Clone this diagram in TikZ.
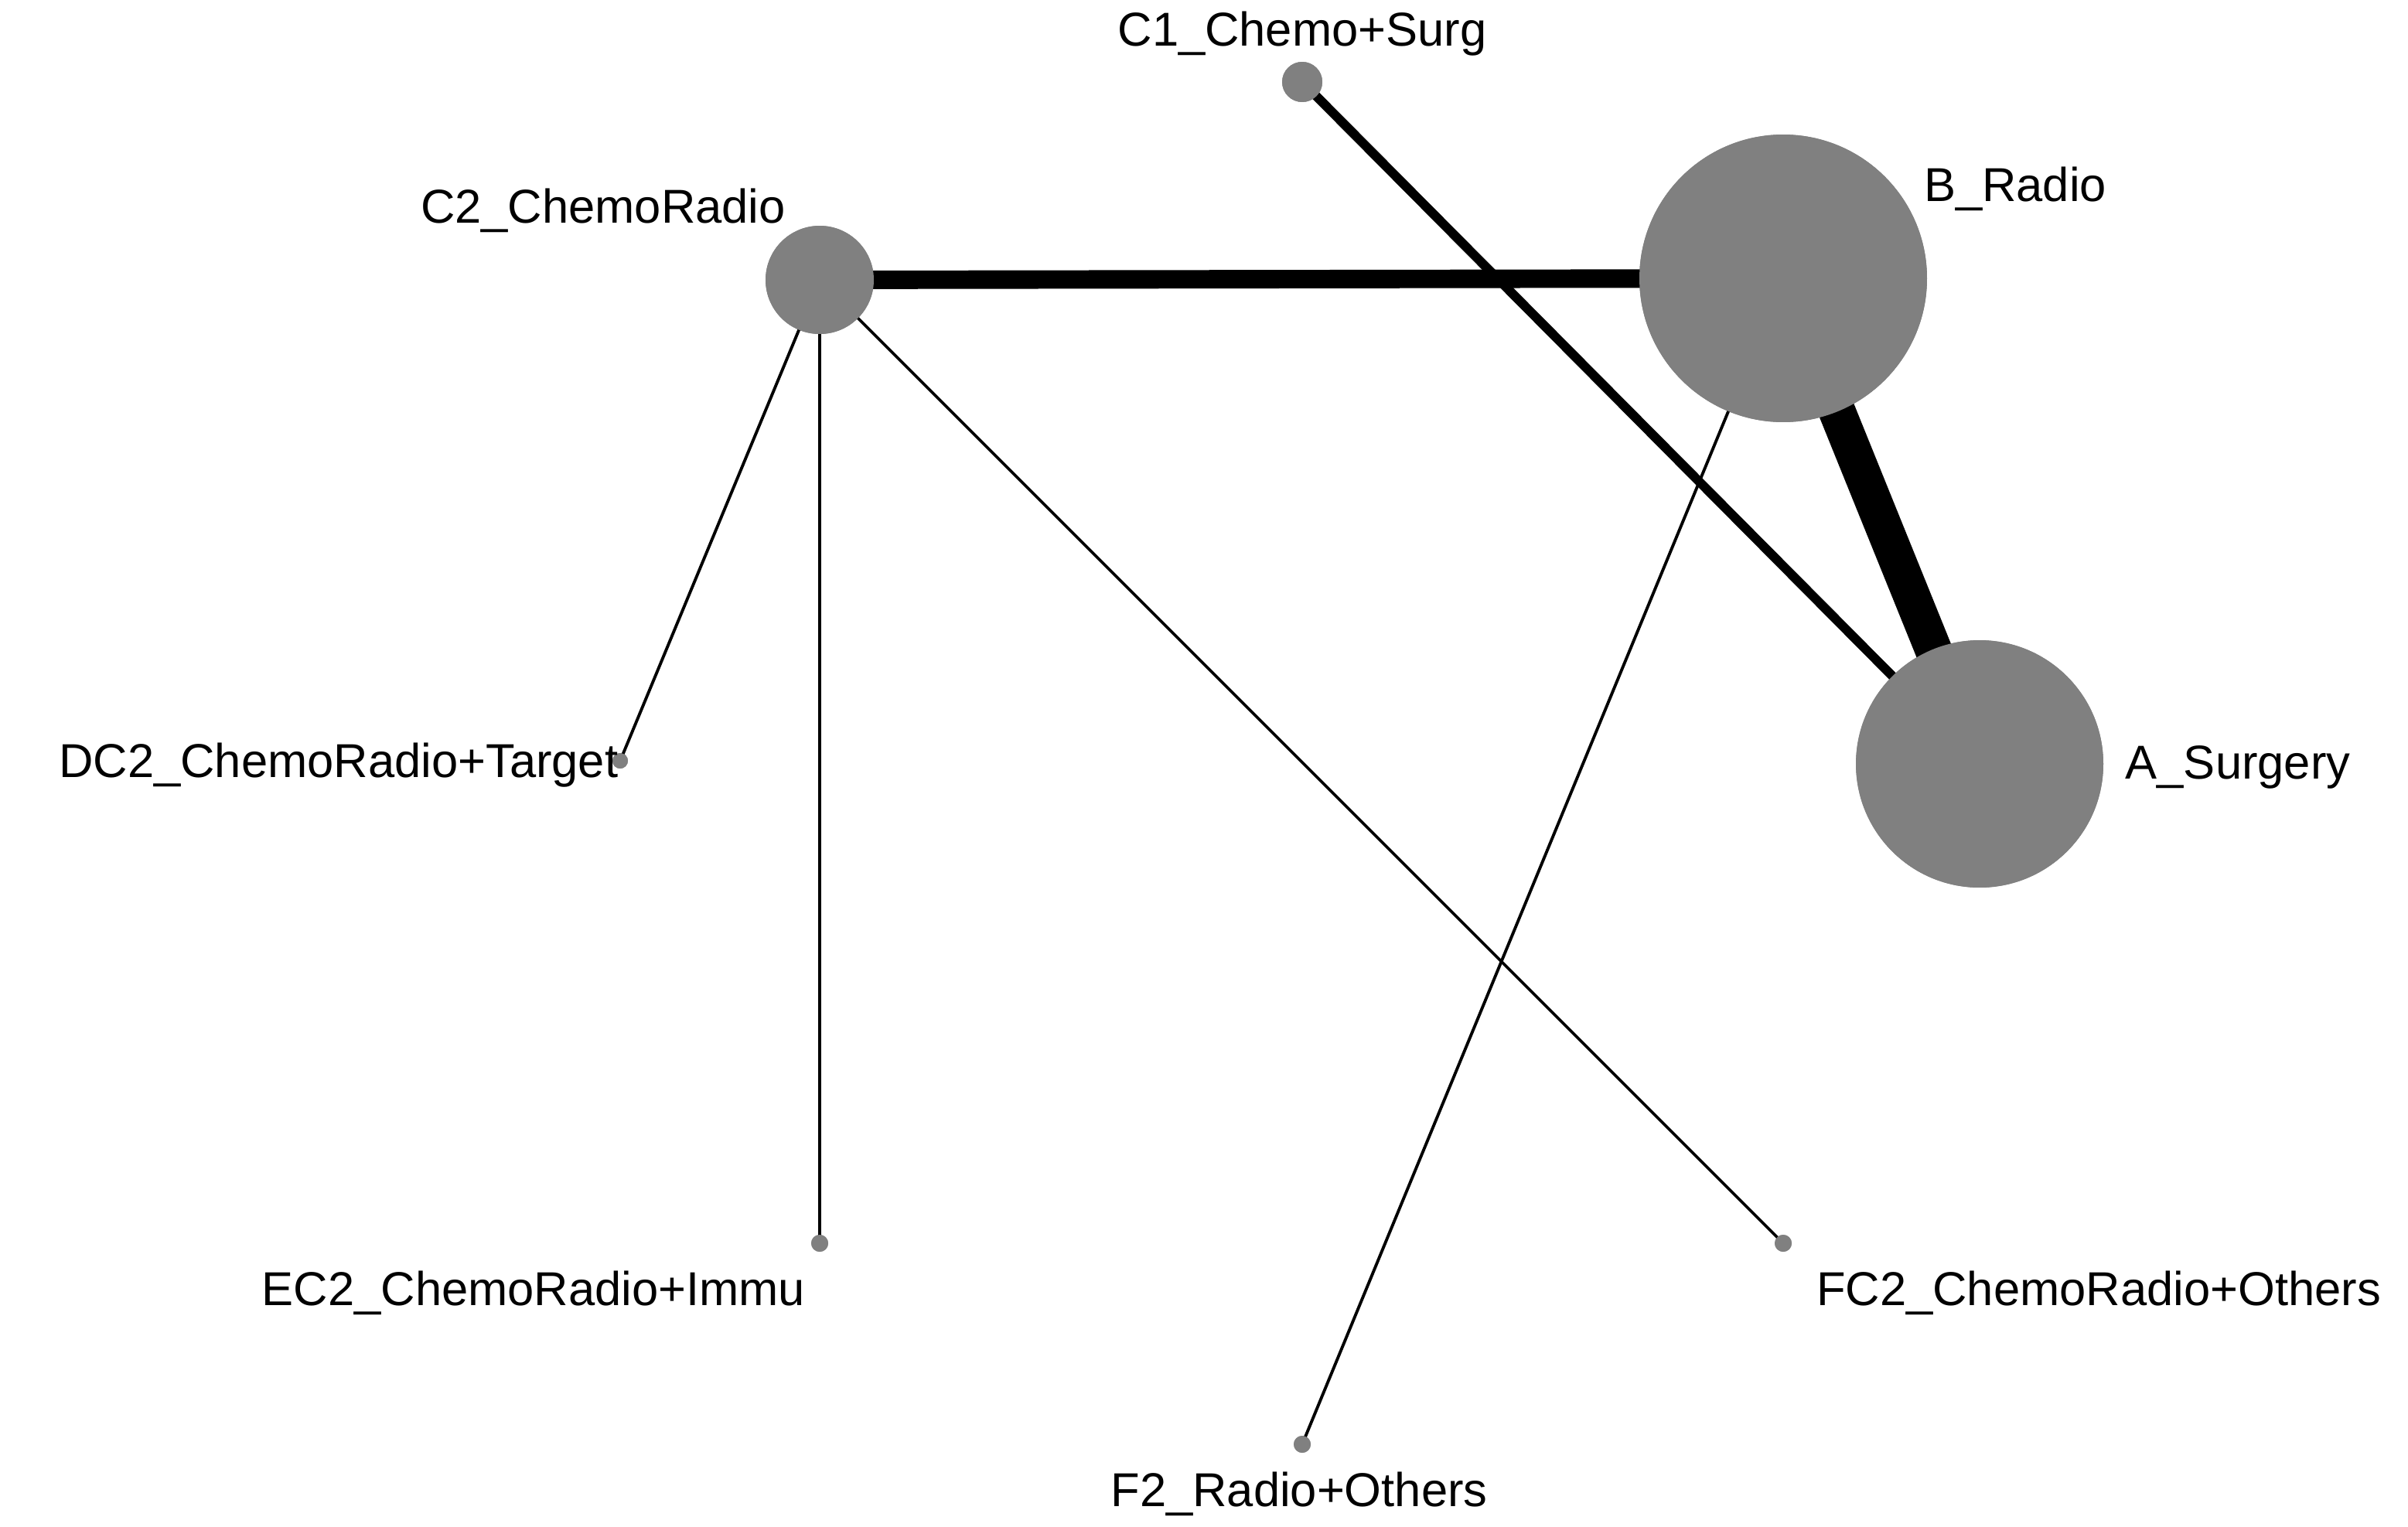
\documentclass[tikz,border=0pt]{standalone}
\usepackage{fontspec}
\setmainfont{Liberation Sans}
\usetikzlibrary{positioning}

\begin{document}
\begin{tikzpicture}[x=0.02cm,y=-0.02cm,
		trt/.style={circle,fill=gray!100!white,fill=black!50,inner sep=0pt,draw=none},
		lbl/.style={font=\fontsize{17.5}{20}\selectfont,inner sep=0pt},
		thin edge/.style={line width=1.1pt},
		mid edge/.style={line width=3.4pt},
		wide edge/.style={line width=6.8pt},
		huge edge/.style={line width=13.6pt}]
			\useasboundingbox (0,0) rectangle (1557,987);
			\node[trt,minimum size=0.52cm] (C1) at (842,53) {};
			\node[trt,minimum size=3.72cm] (B) at (1153,180) {};
			\node[trt,minimum size=1.40cm] (C2) at (530,181) {};
			\node[trt,minimum size=3.20cm] (A) at (1280,494) {};
			\node[trt,minimum size=0.20cm] (DC2) at (401,492) {};
			\node[trt,minimum size=0.22cm] (EC2) at (530,804) {};
			\node[trt,minimum size=0.22cm] (FC2) at (1153,804) {};
			\node[trt,minimum size=0.22cm] (F2) at (842,934) {};
			
			\begin{scope}[on background layer/.style={}]
			\draw[huge edge] (B.center)--(A.center);
			\draw[wide edge] (C2.center)--(B.center);
			\draw[mid edge] (C1.center)--(A.center);
			\draw[thin edge] (C2.center)--(DC2.center);
			\draw[thin edge] (C2.center)--(EC2.center);
			\draw[thin edge] (C2.center)--(FC2.center);
			\draw[thin edge] (B.center)--(F2.center);
			\end{scope}
			
			% redraw circles over the edges
			\foreach \n in {C1,B,C2,A,DC2,EC2,FC2,F2}
				\fill[black!50] (\n) circle[radius=0pt];
			\node[trt,minimum size=0.52cm] at (C1) {};
			\node[trt,minimum size=3.72cm] at (B) {};
			\node[trt,minimum size=1.40cm] at (C2) {};
			\node[trt,minimum size=3.20cm] at (A) {};
			\node[trt,minimum size=0.20cm] at (DC2) {};
			\node[trt,minimum size=0.22cm] at (EC2) {};
			\node[trt,minimum size=0.22cm] at (FC2) {};
			\node[trt,minimum size=0.22cm] at (F2) {};
			
			\node[lbl] (lC1) at (842,22) {C1\_Chemo+Surg};
			\node[lbl] (lB) at (1303,122) {B\_Radio};
			\node[lbl] (lC2) at (390,136) {C2\_ChemoRadio};
			\node[lbl,anchor=east] (lDC2) at (400,495) {DC2\_ChemoRadio+Target};
			\node[lbl] (lA) at (1447,496) {A\_Surgery};
			\node[lbl] (lEC2) at (345,836) {EC2\_ChemoRadio+Immu};
			\node[lbl] (lFC2) at (1357,836) {FC2\_ChemoRadio+Others};
			\node[lbl] (lF2) at (840,966) {F2\_Radio+Others};
		\end{tikzpicture}
\end{document}
